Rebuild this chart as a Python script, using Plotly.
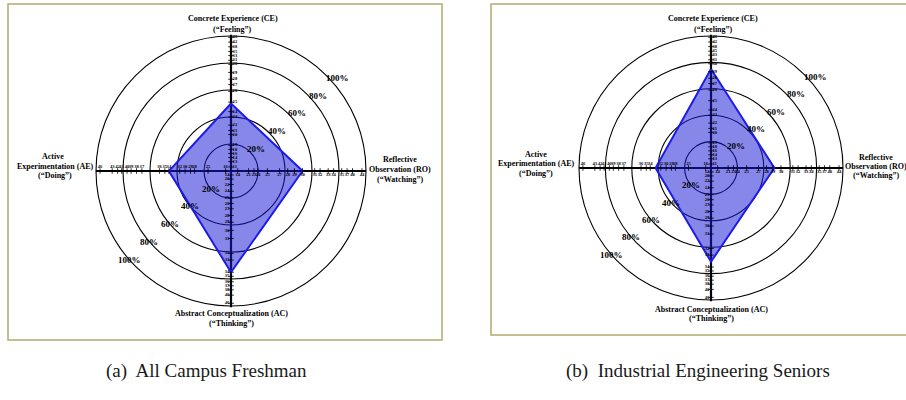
import math
import plotly.graph_objects as go

# ---- Kolb learning-style grid data (percentile positions on each axis) ----
RING_PCT = [20, 40, 60, 80, 100]

# Raw-score tick labels and the percentile at which each sits on its axis
CE_TICKS = [11, 13, 14, 16, 18, 19, 20, 21, 22, 23, 24, 25, 26, 27, 28, 29, 30, 31, 33, 35, 38, 42, 46]
CE_PCT = [3, 7, 10, 13, 16, 19, 27, 30, 34, 40, 44, 51, 59, 64, 68, 73, 79, 82, 85.5, 88.5, 92, 95.5, 99]

AC_TICKS = [12, 20, 22, 24, 25, 26, 27, 28, 29, 30, 31, 32, 33, 34, 35, 36, 37, 38, 40, 46]
AC_PCT = [3, 6, 10, 15, 20, 24, 28, 33, 38, 44, 50, 61, 66, 75, 78, 82, 85, 88, 92, 98]

RO_TICKS = [14, 21, 23, 24, 25, 27, 28, 29, 30, 31, 32, 33, 34, 35, 37, 40, 44]
RO_PCT = [5, 13, 17, 20, 27, 36, 42, 47, 53, 62, 66, 72, 76, 82, 86, 90, 97]

AE_TICKS = [16, 25, 28, 29, 30, 32, 34, 35, 36, 37, 38, 39, 40, 41, 42, 43, 46]
AE_PCT = [4, 17, 27, 30, 34, 38, 46, 49, 53, 66, 70, 74, 77, 81, 84, 88, 97]

# Group profiles: percentile on CE, RO, AC, AE
FRESHMAN = {"CE": 50, "RO": 53, "AC": 75, "AE": 46}
SENIORS = {"CE": 75, "RO": 48, "AC": 71, "AE": 42}

CAPTIONS = ["(a)\u00a0 All Campus Freshman", "(b)\u00a0 Industrial Engineering Seniors"]

W, H = 906, 400
SERIF = "Liberation Serif"


def paper(xp, yp):
    return xp / W, 1 - yp / H


fig = go.Figure()

# panel geometry: centre pixel, pixels per percentile unit, y-range, frame, title anchors
panels = [
    dict(suffix="", cx=231, cy=171, k=1.35, yr=(-140, 126), data=FRESHMAN,
         box=(8, 4, 442, 340),
         titles=[("Concrete Experience (CE)", 233, 19), ("(\u201cFeeling\u201d)", 233, 29),
                 ("Active", 53, 156), ("Experimentation (AE)", 55, 166), ("(\u201cDoing\u201d)", 55, 176),
                 ("Reflective", 400, 159), ("Observation (RO)", 400, 169), ("(\u201cWatching\u201d)", 400, 179),
                 ("Abstract Conceptualization (AC)", 231, 313), ("(\u201cThinking\u201d)", 231, 323)],
         caption=(206, 371)),
    dict(suffix="2", cx=711, cy=168, k=1.32, yr=(-140, 127), data=SENIORS,
         box=(491, 4, 930, 335),
         titles=[("Concrete Experience (CE)", 713, 19), ("(\u201cFeeling\u201d)", 713, 29),
                 ("Active", 536, 154), ("Experimentation (AE)", 536, 164), ("(\u201cDoing\u201d)", 536, 173),
                 ("Reflective", 876, 157), ("Observation (RO)", 876, 166), ("(\u201cWatching\u201d)", 876, 176),
                 ("Abstract Conceptualization (AC)", 711, 309), ("(\u201cThinking\u201d)", 711, 318)],
         caption=(698, 371)),
]

layout_axes = {}
for i, p in enumerate(panels):
    s = p["suffix"]
    xa, ya = "x" + s, "y" + s
    k = p["k"]
    xr = (-140, 140)
    x0p = p["cx"] + xr[0] * k
    x1p = p["cx"] + xr[1] * k
    ytop = p["cy"] - p["yr"][1] * k
    ybot = p["cy"] - p["yr"][0] * k
    layout_axes["xaxis" + s] = dict(range=list(xr), domain=[x0p / W, x1p / W], visible=False,
                                    fixedrange=True, anchor=ya)
    layout_axes["yaxis" + s] = dict(range=list(p["yr"]), domain=[1 - ybot / H, 1 - ytop / H], visible=False,
                                    fixedrange=True, anchor=xa)

    # frame around the panel
    bx0, by0, bx1, by1 = p["box"]
    px0, py1 = paper(bx0, by0)
    px1, py0 = paper(bx1, by1)
    fig.add_shape(type="rect", xref="paper", yref="paper", x0=px0, x1=px1, y0=py0, y1=py1,
                  line=dict(color="#b3aa6c", width=1.5), layer="below")

    # percentile rings
    for r in RING_PCT:
        fig.add_shape(type="circle", xref=xa, yref=ya, x0=-r, x1=r, y0=-r, y1=r,
                      line=dict(color="black", width=1.1), layer="below")
    # the two main axes
    fig.add_shape(type="line", xref=xa, yref=ya, x0=-100, x1=100, y0=0, y1=0,
                  line=dict(color="black", width=2.2), layer="below")
    fig.add_shape(type="line", xref=xa, yref=ya, x0=0, x1=0, y0=-101, y1=101,
                  line=dict(color="black", width=2.2), layer="below")

    # profile diamond
    d = p["data"]
    fig.add_trace(go.Scatter(x=[0, d["RO"], 0, -d["AE"], 0], y=[d["CE"], 0, -d["AC"], 0, d["CE"]],
                             mode="lines", fill="toself", fillcolor="rgba(25,25,215,0.52)",
                             line=dict(color="#1c1ce8", width=2), xaxis=xa, yaxis=ya,
                             hoverinfo="skip"))

    tick_font = dict(family=SERIF, size=4.6, color="black")
    # tick dashes on the vertical axis
    fig.add_trace(go.Scatter(x=[0] * (len(CE_PCT) + len(AC_PCT)), y=CE_PCT + [-v for v in AC_PCT],
                             mode="markers", marker=dict(symbol="line-ew", size=4,
                                                         line=dict(color="black", width=0.8)),
                             xaxis=xa, yaxis=ya, hoverinfo="skip"))
    # tick dashes on the horizontal axis
    fig.add_trace(go.Scatter(x=RO_PCT + [-v for v in AE_PCT], y=[0] * (len(RO_PCT) + len(AE_PCT)),
                             mode="markers", marker=dict(symbol="line-ns", size=4,
                                                         line=dict(color="black", width=0.8)),
                             xaxis=xa, yaxis=ya, hoverinfo="skip"))
    # tick labels
    fig.add_trace(go.Scatter(x=[1.2] * len(CE_PCT), y=CE_PCT, text=[f"<b>{t}</b>" for t in CE_TICKS],
                             mode="text", textposition="middle right", textfont=tick_font,
                             xaxis=xa, yaxis=ya, hoverinfo="skip"))
    fig.add_trace(go.Scatter(x=[-1.2] * len(AC_PCT), y=[-v for v in AC_PCT],
                             text=[f"<b>{t}</b>" for t in AC_TICKS],
                             mode="text", textposition="middle left", textfont=tick_font,
                             xaxis=xa, yaxis=ya, hoverinfo="skip"))
    fig.add_trace(go.Scatter(x=RO_PCT, y=[-1.5] * len(RO_PCT), text=[f"<b>{t}</b>" for t in RO_TICKS],
                             mode="text", textposition="bottom center", textfont=tick_font,
                             xaxis=xa, yaxis=ya, hoverinfo="skip"))
    fig.add_trace(go.Scatter(x=[-v for v in AE_PCT], y=[1.5] * len(AE_PCT),
                             text=[f"<b>{t}</b>" for t in AE_TICKS],
                             mode="text", textposition="top center", textfont=tick_font,
                             xaxis=xa, yaxis=ya, hoverinfo="skip"))

    # ring percentage labels, upper-right and lower-left
    pct_font = dict(family=SERIF, size=9, color="black")
    for r in RING_PCT:
        a1 = math.radians(41)
        fig.add_annotation(x=(r + 5) * math.cos(a1), y=(r + 5) * math.sin(a1), xref=xa, yref=ya,
                           text=f"<b>{r}%</b>", showarrow=False, font=pct_font,
                           xanchor="center", yanchor="middle")
        a2 = math.radians(221)
        fig.add_annotation(x=r * math.cos(a2), y=r * math.sin(a2), xref=xa, yref=ya,
                           text=f"<b>{r}%</b>", showarrow=False, font=pct_font,
                           xanchor="center", yanchor="middle")

    # axis titles
    for txt, tx, ty in p["titles"]:
        ax_, ay_ = paper(tx, ty)
        fig.add_annotation(x=ax_, y=ay_, xref="paper", yref="paper", text=f"<b>{txt}</b>",
                           showarrow=False, font=dict(family=SERIF, size=8, color="black"),
                           xanchor="center", yanchor="middle")

    # caption
    cx_, cy_ = paper(*p["caption"])
    fig.add_annotation(x=cx_, y=cy_, xref="paper", yref="paper", text=CAPTIONS[i], showarrow=False,
                       font=dict(family=SERIF, size=19, color="#1a1a1a"),
                       xanchor="center", yanchor="middle")

fig.update_layout(width=W, height=H, margin=dict(l=0, r=0, t=0, b=0), showlegend=False,
                  paper_bgcolor="white", plot_bgcolor="rgba(0,0,0,0)", **layout_axes)

fig.write_html("out.html")
